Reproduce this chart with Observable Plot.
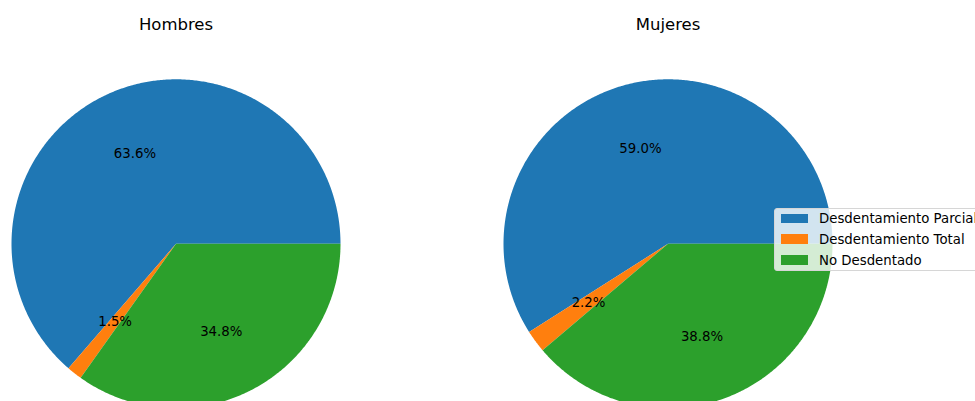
<!DOCTYPE html>
<html>
<head>
<meta charset="utf-8">
<script src="https://cdn.jsdelivr.net/npm/d3@7"></script>
<script src="https://cdn.jsdelivr.net/npm/@observablehq/plot@0.6"></script>
<style>
  html, body { margin: 0; padding: 0; background: #fff; overflow: hidden; }
  #wrap { position: relative; width: 975px; height: 401px; overflow: hidden; font-family: "DejaVu Sans", sans-serif; }
  #legend { position: absolute; left: 773.5px; top: 207.5px; width: 230px; height: 63px;
            background: rgba(255,255,255,0.8); border: 1px solid #d6d6d6; border-radius: 3px; box-sizing: border-box; }
  .item { position: absolute; left: 6px; height: 14px; display: flex; align-items: center; white-space: nowrap; font-size: 13.3px; color: #000; }
  .sw { width: 27px; height: 9.5px; margin-right: 11.5px; }
</style>
</head>
<body>
<div id="wrap"></div>
<script>
const groups = ["Hombres", "Mujeres"];
const categories = ["Desdentamiento Parcial", "Desdentamiento Total", "No Desdentado"];
const hombres = [63.6, 1.5, 34.8];
const mujeres = [59.0, 2.2, 38.8];
const colors = ["#1f77b4", "#ff7f0e", "#2ca02c"];

const seriesByGroup = { Hombres: hombres, Mujeres: mujeres };

// build slice polygons and label anchors (matplotlib: start at 0°, counter-clockwise)
const slicePts = [];
const labels = [];
for (const g of groups) {
  const vals = seriesByGroup[g];
  const total = d3.sum(vals);
  let start = 0;
  vals.forEach((v, i) => {
    const a0 = start, a1 = start + (v / total) * 2 * Math.PI;
    const key = g + "|" + categories[i];
    slicePts.push({ g, cat: categories[i], key, x: 0, y: 0 });
    const n = Math.max(2, Math.ceil((a1 - a0) / (Math.PI / 360)));
    for (let k = 0; k <= n; k++) {
      const a = a0 + (a1 - a0) * k / n;
      slicePts.push({ g, cat: categories[i], key, x: Math.cos(a), y: Math.sin(a) });
    }
    const mid = (a0 + a1) / 2;
    labels.push({ g, x: 0.6 * Math.cos(mid), y: 0.6 * Math.sin(mid), text: v.toFixed(1) + "%" });
    start = a1;
  });
}

const chart = Plot.plot({
  width: 975,
  height: 401,
  marginLeft: 11,
  marginRight: 142.5,
  marginTop: 78.8,
  marginBottom: 0,
  style: { fontFamily: "DejaVu Sans, sans-serif", background: "transparent" },
  fx: { domain: groups, paddingInner: 0.332, paddingOuter: 0, axis: null },
  x: { domain: [-1, 1], axis: null },
  y: { domain: [-0.9587, 1], axis: null },
  color: { domain: categories, range: colors },
  marks: [
    Plot.line(slicePts, { fx: "g", x: "x", y: "y", z: "key", fill: "cat", stroke: "none", curve: "linear-closed" }),
    Plot.text(labels, { fx: "g", x: "x", y: "y", text: "text", fontSize: 13.3, fill: "#000", textAnchor: "middle", lineAnchor: "middle" }),
    Plot.text(groups, { fx: d => d, frameAnchor: "top", dy: -54.5, text: d => d, fontSize: 16.5, fill: "#000", lineAnchor: "middle" })
  ]
});

const wrap = document.getElementById("wrap");
wrap.appendChild(chart);

const legend = document.createElement("div");
legend.id = "legend";
const ys = [3, 23.5, 44.5];
categories.forEach((c, i) => {
  const it = document.createElement("div");
  it.className = "item";
  it.style.top = ys[i] + "px";
  const sw = document.createElement("div");
  sw.className = "sw";
  sw.style.background = colors[i];
  it.appendChild(sw);
  const t = document.createElement("span");
  t.textContent = c;
  it.appendChild(t);
  legend.appendChild(it);
});
wrap.appendChild(legend);
</script>
</body>
</html>
